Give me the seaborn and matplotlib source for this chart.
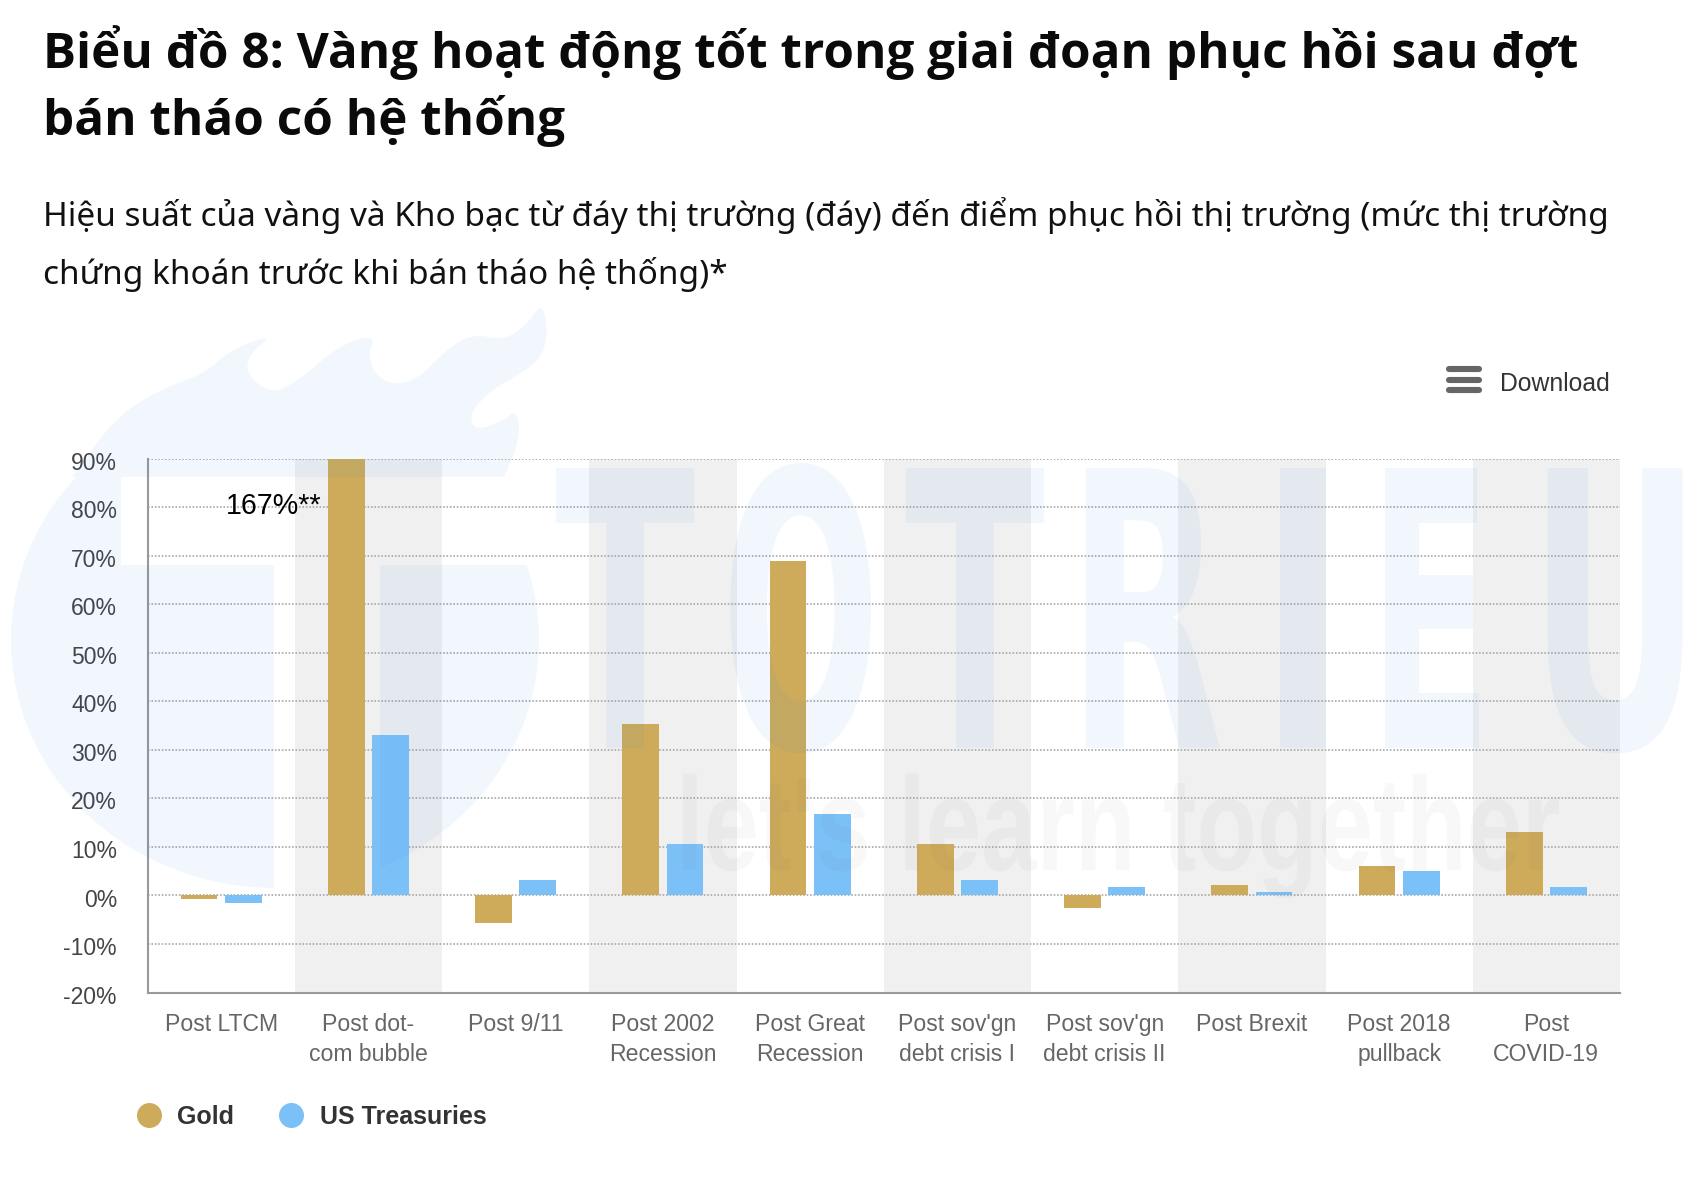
import numpy as np
import pandas as pd
import matplotlib
matplotlib.use('Agg')
import matplotlib.pyplot as plt
import matplotlib.patheffects as pe
from matplotlib.lines import Line2D
from matplotlib.patches import Ellipse, Polygon, Rectangle
from matplotlib.transforms import Affine2D, ScaledTranslation
import seaborn as sns

# Chart data
events = ['Post LTCM', 'Post dot-\ncom bubble', 'Post 9/11', 'Post 2002\nRecession',
          'Post Great\nRecession', "Post sov'gn\ndebt crisis I", "Post sov'gn\ndebt crisis II",
          'Post Brexit', 'Post 2018\npullback', 'Post\nCOVID-19']
gold = [-0.8, 167, -5.6, 35.3, 68.9, 10.7, -2.6, 2.1, 6.0, 13.0]
treasuries = [-1.6, 33.0, 3.1, 10.7, 16.8, 3.1, 1.7, 0.8, 5.1, 1.7]
y_ticks = [-20, -10, 0, 10, 20, 30, 40, 50, 60, 70, 80, 90]

title_lines = ['Biểu đồ 8: Vàng hoạt động tốt trong giai đoạn phục hồi sau đợt',
               'bán tháo có hệ thống']
subtitle_lines = ['Hiệu suất của vàng và Kho bạc từ đáy thị trường (đáy) đến điểm phục hồi thị trường (mức thị trường',
                  'chứng khoán trước khi bán tháo hệ thống)*']

GOLD = '#CEAB5B'
BLUE = '#7CC0F8'
W, H = 1700, 1196


class Stretch(pe.AbstractPathEffect):
    """Scale glyphs from their left end of the baseline (the logo font is condensed)"""

    def __init__(self, sx, sy):
        super().__init__()
        self.sx, self.sy = sx, sy

    def draw_path(self, renderer, gc, tpath, affine, rgbFace=None):
        renderer.draw_path(gc, tpath, Affine2D().scale(self.sx, self.sy) + affine, rgbFace)


def chaikin(points, rounds=2):
    """Round an open outline, keeping its two end points"""
    pts = np.asarray(points, dtype=float)
    for _ in range(rounds):
        q = 0.75 * pts[:-1] + 0.25 * pts[1:]
        r = 0.25 * pts[:-1] + 0.75 * pts[1:]
        mid = np.empty((2 * len(q), 2))
        mid[0::2], mid[1::2] = q, r
        pts = np.vstack([pts[0], mid, pts[-1]])
    return pts


sns.set_theme(style='white')
plt.rcParams['font.family'] = ['Liberation Sans', 'DejaVu Sans']

fig = plt.figure(figsize=(W / 100, H / 100), dpi=100, facecolor='white')
ax = fig.add_axes([147.5 / W, 1 - 992.5 / H, (1620 - 147.5) / W, (992.5 - 458.7) / H])

# page pixels (y down) to figure
px = Affine2D().scale(1 / W, -1 / H).translate(0, 1) + fig.transFigure

df = pd.DataFrame({
    'event': events * 2,
    'value': gold + treasuries,
    'series': ['Gold'] * len(events) + ['US Treasuries'] * len(events),
})

for i in range(1, len(events), 2):
    ax.axvspan(i - 0.5, i + 0.5, color='#F0F0F0', lw=0, zorder=0)

sns.barplot(data=df, x='event', y='value', hue='series', palette=[GOLD, BLUE],
            width=0.6, gap=0.17, saturation=1, legend=False, linewidth=0, ax=ax)

ax.set_xlim(-0.5, len(events) - 0.5)
ax.set_ylim(-20, 90)
ax.set_xlabel('')
ax.set_ylabel('')
ax.set_yticks(y_ticks)
ax.set_yticklabels([f'{v}%' for v in y_ticks])
ax.tick_params(axis='y', length=0, pad=22, labelsize=16.5, labelcolor='#444444')
ax.tick_params(axis='x', length=0, pad=14.5, labelsize=16.6, labelcolor='#666666')
for label in ax.get_xticklabels():
    label.set_linespacing(1.41)
for label in ax.get_yticklabels():
    label.set_transform(label.get_transform() + ScaledTranslation(0, -1.5 / 72, fig.dpi_scale_trans))
ax.set_axisbelow(True)
ax.yaxis.grid(True, color='#ADADAD', linestyle=(0, (0.9, 1.0)), linewidth=1.3)
ax.xaxis.grid(False)
ax.patch.set_alpha(0)
for side in ['top', 'right']:
    ax.spines[side].set_visible(False)
for side in ['left', 'bottom']:
    ax.spines[side].set_color('#999999')
    ax.spines[side].set_linewidth(1.5)

ax.text(0.68, 80.2, '167%**', ha='right', va='center', fontsize=20.6, color='black')

# Legend
handles = [Line2D([], [], linestyle='', marker='o', markersize=18, markeredgewidth=0, color=c)
           for c in [GOLD, BLUE]]
fig.legend(handles, ['Gold', 'US Treasuries'], ncols=2, frameon=False, loc='center left',
           bbox_to_anchor=(118.5 / W, 1 - 1117 / H), handletextpad=0.45, columnspacing=1.56,
           handlelength=1.4, borderpad=0, prop={'weight': 'bold', 'size': 18}, labelcolor='#333333')

# Menu icon and label
for y in [369, 379.5, 390]:
    fig.add_artist(Line2D([1449, 1479], [y, y], transform=px, color='#666666', lw=4.4,
                          solid_capstyle='round'))
fig.text(1500 / W, 1 - 384 / H, 'Download', fontsize=17.8, color='#333333', va='center')

# Heading
for line, y in zip(title_lines, [68, 135]):
    fig.text(43 / W, 1 - y / H, line, family='Open Sans', fontweight='bold', fontsize=35.6,
             color='#0a0a0a', va='baseline')
for line, y in zip(subtitle_lines, [226, 284]):
    fig.text(43 / W, 1 - y / H, line, family='Noto Sans', fontsize=24.0,
             color='#111111', va='baseline')

# Faint logo laid over the whole page
wm = {'facecolor': '#1F7FD8', 'alpha': 0.06, 'lw': 0, 'transform': px, 'zorder': 5}
outline = [(72, 477), (115, 418), (159, 390), (204, 374), (230, 350), (274, 334), (249, 354),
           (246, 374), (271, 394), (300, 380), (338, 346), (376, 334), (367, 358), (383, 384),
           (415, 382), (446, 350), (472, 334), (504, 340), (526, 326), (542, 302), (548, 330),
           (542, 358), (520, 374), (491, 390), (469, 414), (475, 431), (504, 420), (517, 410),
           (520, 439), (504, 477)]
fig.add_artist(Polygon(chaikin(outline), closed=True, **wm))

circle = Ellipse((275, 640), 528, 496, transform=px, facecolor='none', lw=0)
fig.add_artist(circle)
for x0, y0, x1, y1 in [(0, 477, 121, 565), (0, 565, 274, 900), (380, 565, 560, 900)]:
    part = Rectangle((x0, y0), x1 - x0, y1 - y0, **wm)
    fig.add_artist(part)
    part.set_clip_path(circle)

letters = ['T', 'O', 'T', 'R', 'I', 'E', 'U']
letter_x = [555, 721, 905, 1067, 1257, 1368, 1528]
letter_sx = [1.37, 1.25, 1.37, 1.36, 1.65, 1.21, 1.43]
for ch, x, sx in zip(letters, letter_x, letter_sx):
    fig.text(x / W, 1 - 748 / H, ch, family='DejaVu Sans', fontweight='bold', fontsize=108,
             color='#1F7FD8', alpha=0.06, ha='left', va='baseline', zorder=5,
             path_effects=[Stretch(sx, 2.56)])
fig.text(676 / W, 1 - 870 / H, "let's learn together", fontweight='bold', fontsize=71.5,
         color='#555555', alpha=0.04, ha='left', va='baseline', zorder=5,
         path_effects=[Stretch(1, 1.34)])

fig.savefig('out.png', dpi=100)
